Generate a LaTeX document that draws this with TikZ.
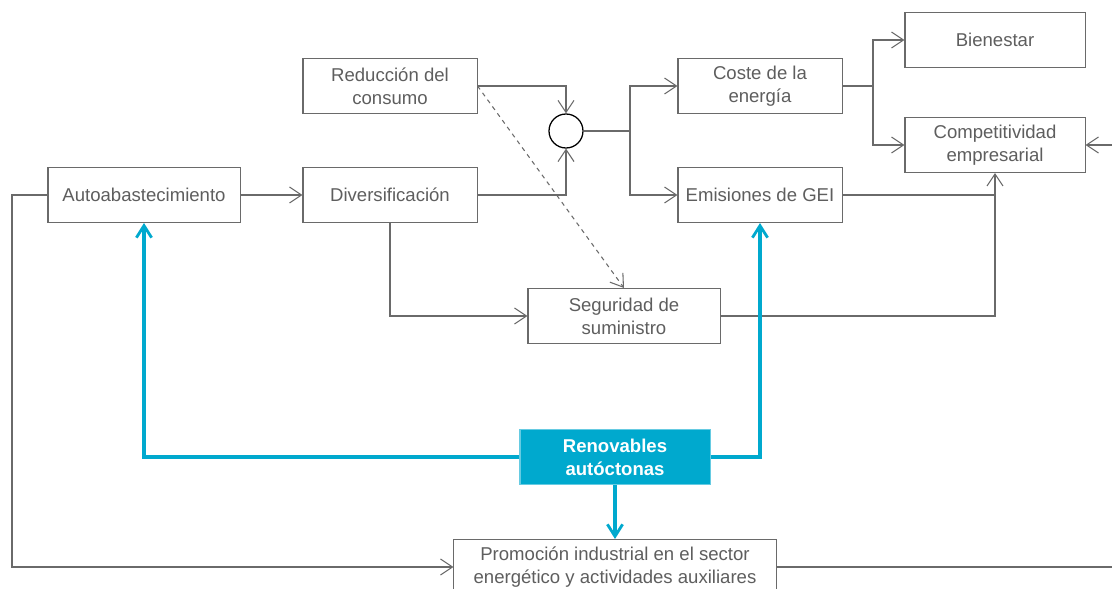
\documentclass[tikz,border=0pt]{standalone}
\usepackage{fontspec}
\setmainfont{Liberation Sans}
\usetikzlibrary{arrows.meta}
\definecolor{linegray}{HTML}{6A6A6A}
\definecolor{textgray}{HTML}{5E5E5E}
\definecolor{renblue}{HTML}{00A9CE}
\begin{document}
\begin{tikzpicture}[x=0.025cm,y=-0.025cm,
    >={Straight Barb[length=0.3cm,width=0.4cm]},
    link/.style={draw=linegray,line width=0.75pt},
    bluelink/.style={draw=renblue,line width=2.6pt,>={Straight Barb[length=0.3cm,width=0.38cm,line width=2pt]}}]
\clip (0,0) rectangle (1112,589);
\fill[white] (0,0) rectangle (1112,589);
\begin{scope}[every node/.style={rectangle,draw=linegray,line width=0.75pt,text=textgray,
    minimum height=1.375cm,inner sep=0pt,align=center,
    font=\fontsize{13.2}{16.4}\selectfont}]
    \node[minimum width=4.5cm] (bien) at (995,40) {Bienestar};
    \node[minimum width=4.5cm] (comp) at (995,145) {Competitividad\\empresarial};
    \node[minimum width=4.1cm] (coste) at (760,86) {Coste de la\\energía};
    \node[minimum width=4.1cm] (emis) at (760,195) {Emisiones de GEI};
    \node[minimum width=4.35cm] (red) at (390,86) {Reducción del\\consumo};
    \node[minimum width=4.35cm] (div) at (390,195) {Diversificación};
    \node[minimum width=4.8cm] (auto) at (144,195) {Autoabastecimiento};
    \node[minimum width=4.8cm] (seg) at (624,316) {Seguridad de\\suministro};
    \node[minimum width=8.05cm] (prom) at (615,567) {Promoción industrial en el sector\\energético y actividades auxiliares};
    \node[fill=renblue,draw=renblue!60,text=white,minimum width=4.75cm,
          font=\fontsize{13.2}{16.4}\selectfont\bfseries] (ren) at (615,457) {Renovables\\autóctonas};
\end{scope}
\node[circle,draw=black,line width=0.9pt,minimum size=0.85cm,inner sep=0pt] (circ) at (566,131) {};

\coordinate (s1) at (630,131);
\coordinate (s2) at (873,86);
\coordinate (lw) at (12,567);
\coordinate (rw) at (1130,567);

\begin{scope}[every path/.style={link}]
    \draw[->] (red.east) -| (circ.north);
    \draw[->] (div.east) -| (circ.south);
    \draw (circ.east) -- (s1);
    \draw[->] (s1) |- (coste.west);
    \draw[->] (s1) |- (emis.west);
    \draw (coste.east) -- (s2);
    \draw[->] (s2) |- (bien.west);
    \draw[->] (s2) |- (comp.west);
    \draw[->] (emis.east) -| (comp.south);
    \draw (seg.east) -| (comp.south |- emis.east);
    \draw[->] (div.south) |- (seg.west);
    \draw[->,dashed] (red.east) -- (seg.north);
    \draw[->] (auto.east) -- (div.west);
    \draw[->] (auto.west) -| (lw) -- (prom.west);
    \draw[->] (prom.east) -- (rw) |- (comp.east);
\end{scope}

\begin{scope}[every path/.style={bluelink}]
    \draw[->] (ren.west) -| (auto.south);
    \draw[->] (ren.east) -| (emis.south);
    \draw[->] (ren.south) -- (prom.north);
\end{scope}
\end{tikzpicture}
\end{document}
